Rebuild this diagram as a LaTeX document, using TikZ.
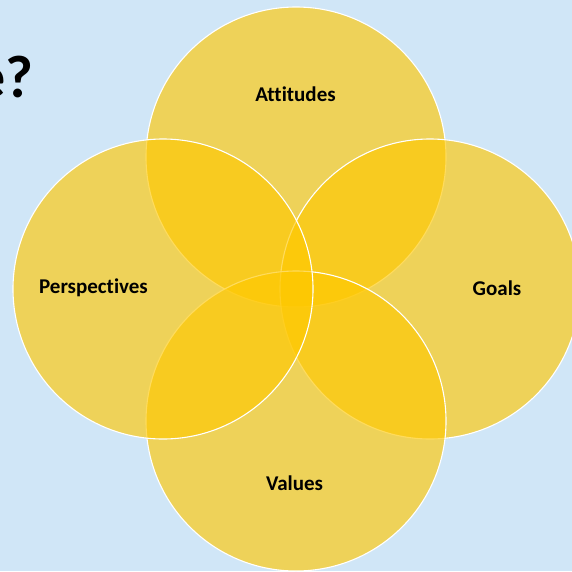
\documentclass[tikz,border=0pt]{standalone}
\usepackage{fontspec}
\setmainfont{Carlito}[Ligatures=NoCommon]
\definecolor{bgblue}{RGB}{208,230,247}
\definecolor{petal}{RGB}{255,200,0}
\tikzset{
  petalcircle/.style={circle, minimum size=300pt, inner sep=0pt, fill=petal, fill opacity=0.64, draw=white, draw opacity=1, line width=1.1pt},
  petallabel/.style={font=\fontsize{21}{24}\selectfont\bfseries, text=black, inner sep=0pt},
}
\begin{document}
\begin{tikzpicture}[x=1pt,y=-1pt]
\useasboundingbox (0,0) rectangle (572,571);
\clip (0,0) rectangle (572,571);
\fill[bgblue] (0,0) rectangle (572,571);
\node[anchor=base east, font=\fontsize{60}{66}\selectfont\bfseries, inner sep=0pt] (title) at (34,97) {e?};
\node[petalcircle] (top) at (296,157) {};
\node[petalcircle] (right) at (430,289) {};
\node[petalcircle] (bottom) at (296,421) {};
\node[petalcircle] (left) at (163,289) {};
\node[petallabel] (att) at (295.5,94) {Attitudes};
\node[petallabel] (per) at (93.5,288) {Perspectives};
\node[petallabel] (goa) at (497,288) {Goals};
\node[petallabel] (val) at (294.5,483) {Values};
\end{tikzpicture}
\end{document}
